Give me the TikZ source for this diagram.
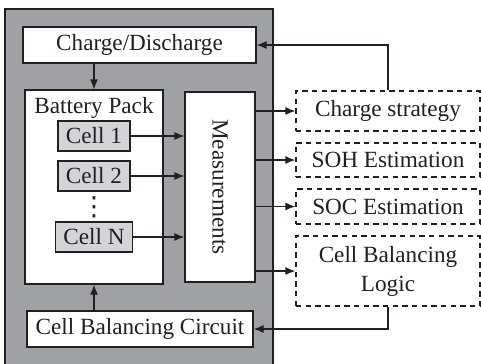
\documentclass[tikz,border=0pt]{standalone}
\usepackage{fontspec}
\setmainfont{Liberation Serif}
\newfontfamily\symfont{DejaVu Sans}
\usetikzlibrary{arrows.meta,positioning,calc}
\definecolor{bmsGray}{RGB}{160,161,164}
\definecolor{cellGray}{RGB}{211,212,214}
\definecolor{inkDark}{RGB}{35,31,32}

\begin{document}
\begin{tikzpicture}[font=\fontsize{13.2}{16.5}\selectfont,color=inkDark,line width=0.7pt,
        >={Latex[length=2mm,width=1.6mm]},
        blk/.style={draw,fill=white,inner sep=0pt},
        cel/.style={draw,fill=cellGray,inner xsep=4.5pt,inner ysep=0pt,minimum height=6mm},
        dsh/.style={draw,dash pattern=on 3pt off 2.5pt,fill=white,minimum width=36.8mm,
                    inner sep=0pt,align=center}]
        \useasboundingbox (0,0) rectangle (9.62,-7.26);
        \filldraw[fill=bmsGray] (0.1,-0.18) rectangle (5.46,-7.6);
        \node[blk,minimum width=46.6mm,minimum height=7.2mm] (cd) at (2.79,-0.9) {Charge/Discharge};
        \node[blk,minimum width=27.6mm,minimum height=38.8mm] (pack) at (1.88,-3.74) {};
        \node (packlbl) at (1.88,-2.16) {Battery Pack};
        \node[blk,minimum width=14mm,minimum height=38mm] (meas) at (4.4,-3.74) {\rotatebox{-90}{Measurements}};
        \foreach \lbl/\y in {1/-2.72,2/-3.52,N/-4.74}{
          \node[cel] (cell\lbl) at (1.88,\y) {Cell \lbl};
          \draw[->] (cell\lbl.east) -- (cell\lbl.east -| meas.west);
        }
        \node[inner sep=0pt,font=\symfont\fontsize{15}{15}\selectfont] (dots) at (1.88,-4.14) {⋮};
        \node[blk,minimum width=45.2mm,minimum height=7.2mm] (cbc) at (2.8,-6.58) {Cell Balancing Circuit};
        % dashed blocks on the right
        \node[dsh,minimum height=8mm] (chg) at (7.76,-2.22) {Charge strategy};
        \node[dsh,minimum height=6.8mm] (soh) at (7.76,-3.2) {SOH Estimation};
        \node[dsh,minimum height=7mm] (soc) at (7.76,-4.13) {SOC Estimation};
        \node[dsh,minimum height=14mm] (cbl) at (7.76,-5.42) {Cell Balancing\\Logic};
        \foreach \t in {chg,soh,soc,cbl}
          \draw[->] (meas.east |- \t.west) -- (\t.west);
        \draw[->] (chg.north) |- (cd.east);
        \draw[->] (cbl.south) |- (cbc.east);
        \draw[->] (cd.south -| pack.north) -- (pack.north);
        \draw[->] (cbc.north -| pack.south) -- (pack.south);
      \end{tikzpicture}
\end{document}
